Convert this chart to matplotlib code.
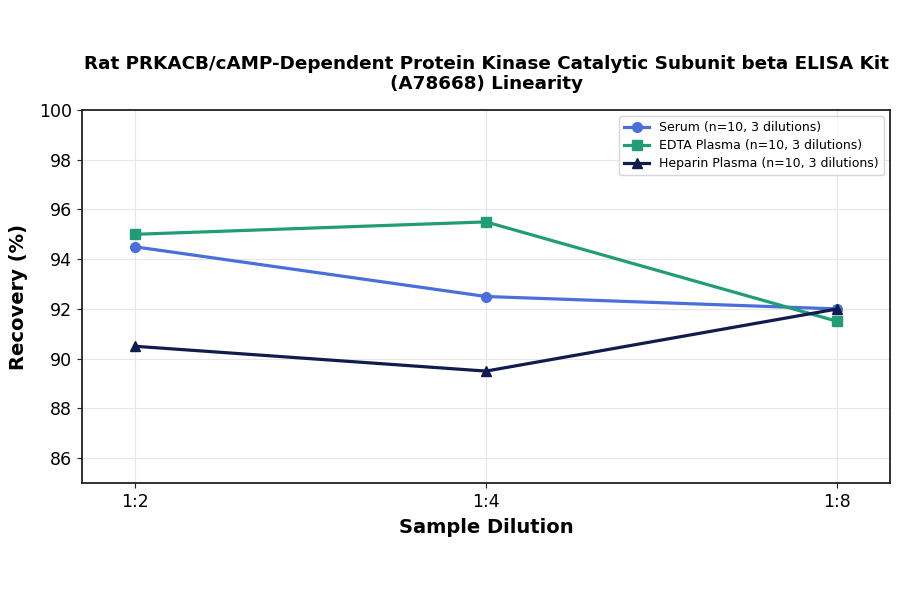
import matplotlib
matplotlib.use("Agg")
import matplotlib.pyplot as plt

dilutions = ["1:2", "1:4", "1:8"]
serum = [94.5, 92.5, 92.0]
edta = [95.0, 95.5, 91.5]
heparin = [90.5, 89.5, 92.0]
labels = ["Serum (n=10, 3 dilutions)", "EDTA Plasma (n=10, 3 dilutions)", "Heparin Plasma (n=10, 3 dilutions)"]
yticks = [86, 88, 90, 92, 94, 96, 98, 100]

fig = plt.figure(figsize=(9, 5.94), dpi=100)
ax = fig.add_axes([82/900, 1-483/594, (890-82)/900, (483-110)/594])
x = list(range(len(dilutions)))
ax.plot(x, serum, color="#4a6fd8", marker="o", lw=2.3, ms=7, label=labels[0])
ax.plot(x, edta, color="#219c76", marker="s", lw=2.3, ms=7, label=labels[1])
ax.plot(x, heparin, color="#0f1c4d", marker="^", lw=2.3, ms=7, label=labels[2])
ax.set_xlim(-0.15, 2.15)
ax.set_ylim(85, 100)
ax.set_xticks(x)
ax.set_xticklabels(dilutions)
ax.set_yticks(yticks)
ax.tick_params(labelsize=12.5, color="#222222")
ax.grid(True, color="#e6e6e6", lw=0.8)
for s in ax.spines.values():
    s.set_linewidth(1.3)
    s.set_color("#222222")
ax.set_xlabel("Sample Dilution", fontsize=14, fontweight="bold", labelpad=5.5)
ax.set_ylabel("Recovery (%)", fontsize=14, fontweight="bold", labelpad=8)
ax.set_title("Rat PRKACB/cAMP-Dependent Protein Kinase Catalytic Subunit beta ELISA Kit\n(A78668) Linearity",
             fontsize=13.2, fontweight="bold", pad=15, linespacing=1.15)
ax.legend(loc="upper right", fontsize=9, labelspacing=0.4, handlelength=2.0)
fig.savefig("out.png", dpi=100)
